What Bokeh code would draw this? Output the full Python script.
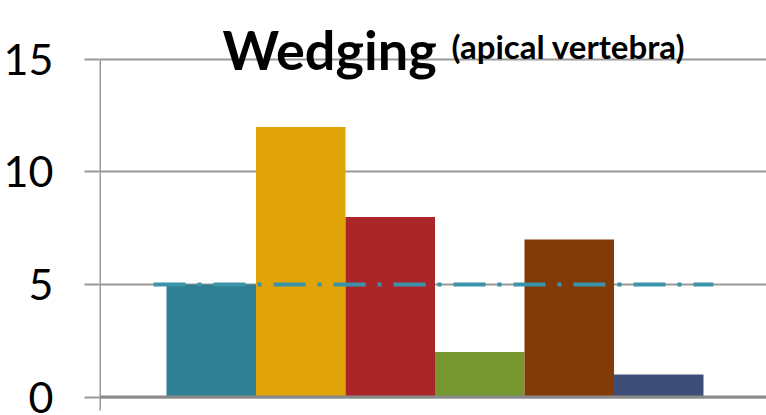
from bokeh.plotting import figure
from bokeh.models import ColumnDataSource, FixedTicker, Range1d, Label
from bokeh.embed import file_html
from bokeh.resources import INLINE

# Apical vertebra wedging (degrees) per group
groups = ["A", "B", "C", "D", "E", "F"]
wedging = [5, 12, 8, 2, 7, 1]
bar_colors = ["#2E7F91", "#E0A308", "#AB2629", "#76962F", "#823A06", "#3D4F79"]
reference_level = 5
y_ticks = [0, 5, 10, 15]
y_tick_labels = {0: "0", 5: "5", 10: "10", 15: "15"}

positions = list(range(1, len(groups) + 1))
src = ColumnDataSource(dict(x=positions, top=wedging, color=bar_colors, name=groups))

x_lo, x_hi = -0.2486, 7.204
p = figure(
    width=766, height=415,
    x_range=Range1d(x_lo, x_hi),
    y_range=Range1d(-0.822, 17.622),
    output_backend="svg", toolbar_location=None,
    x_axis_location=None,
    min_border_left=99, min_border_right=0, min_border_top=0, min_border_bottom=0,
)
p.outline_line_color = None
p.background_fill_color = "white"
p.border_fill_color = "white"

# y axis: ticks outward, labels large, axis line drawn separately
ax = p.yaxis[0]
ax.ticker = FixedTicker(ticks=y_ticks)
ax.major_label_overrides = y_tick_labels
ax.axis_line_color = None
ax.major_tick_in = 0
ax.major_tick_out = 15
ax.major_tick_line_color = "#999999"
ax.major_tick_line_width = 2
ax.minor_tick_line_color = None
ax.major_label_standoff = 31
ax.major_label_text_font = "Lato"
ax.major_label_text_font_size = "43px"
ax.major_label_text_color = "black"

p.xgrid.visible = False
p.ygrid.ticker = FixedTicker(ticks=y_ticks)
p.ygrid.grid_line_color = "#999999"
p.ygrid.grid_line_width = 2

# vertical axis line, running a little below zero
p.segment(x0=[x_lo], y0=[-0.6], x1=[x_lo], y1=[max(y_ticks)],
          line_color="#999999", line_width=3)

p.vbar(x="x", top="top", bottom=0, width=1.0, fill_color="color",
       line_color=None, source=src)

# baseline at zero
p.segment(x0=[x_lo], y0=[0], x1=[x_hi], y1=[0], line_color="#8A8A8A", line_width=3)

# dash-dot reference level
p.line(x=[positions[0] - 0.645, positions[-1] + 0.61], y=[reference_level] * 2,
       line_color="#3A93A8", line_width=4, line_dash="32 12 4 12")

# title
p.add_layout(Label(x=1.126, y=15.444, text="Wedging", text_font="Lato",
                   text_font_style="bold", text_font_size="54px",
                   text_color="black", text_baseline="alphabetic"))
p.add_layout(Label(x=3.684, y=15.578, text="(apical vertebra)", text_font="Lato",
                   text_font_style="bold", text_font_size="33px",
                   text_color="black", text_baseline="alphabetic"))

open("out.html", "w").write(file_html(p, INLINE))
